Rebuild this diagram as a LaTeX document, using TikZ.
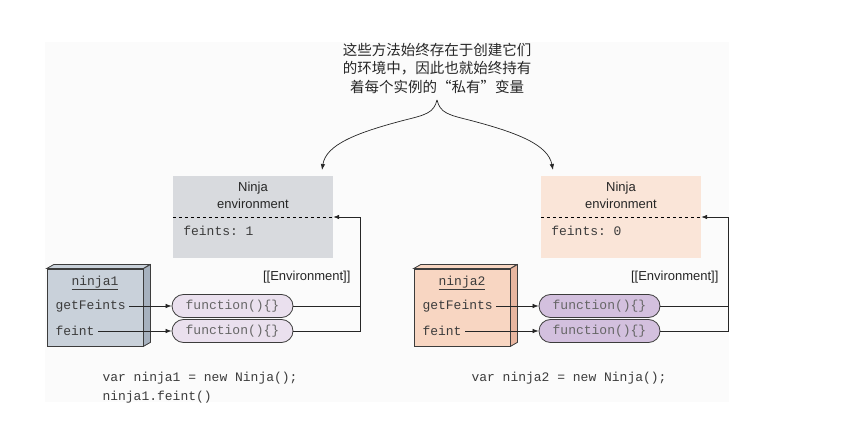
\documentclass[tikz,border=0pt]{standalone}
\usepackage{fontspec}
\setmainfont{Liberation Sans}
\setmonofont{Liberation Mono}
\newfontfamily\cjk{Noto Sans CJK SC}
\usetikzlibrary{arrows.meta, positioning, calc}
\definecolor{panelgray}{RGB}{251,251,251}
\definecolor{envgray}{RGB}{216,218,222}
\definecolor{envpeach}{RGB}{250,229,216}
\definecolor{ninjablue}{RGB}{201,209,218}
\definecolor{ninjabside}{RGB}{166,177,190}
\definecolor{ninjapeach}{RGB}{248,214,194}
\definecolor{ninjapside}{RGB}{232,182,160}
\definecolor{funclight}{RGB}{234,224,238}
\definecolor{funcdark}{RGB}{211,192,222}
\definecolor{inkgray}{RGB}{60,60,60}

\begin{document}
\begin{tikzpicture}[
        x=1pt, y=-1pt,
        envbox/.style={rectangle, minimum width=160pt, minimum height=82pt, inner sep=0pt},
        envtitle/.style={align=center, text=black!85, font=\fontsize{13}{17}\selectfont},
        code/.style={text=inkgray, font=\ttfamily\fontsize{13}{15}\selectfont},
        ninjabox/.style={rectangle, draw=inkgray, line width=0.8pt, minimum width=96pt, minimum height=77pt, inner sep=0pt},
        func/.style={rectangle, draw=inkgray, line width=0.8pt, rounded corners=11.5pt, minimum width=121pt, minimum height=23pt, inner sep=0pt, text=black!60, font=\ttfamily\fontsize{13}{15}\selectfont},
        link/.style={-{Latex[length=6pt,width=4.5pt]}, line width=0.7pt, draw=black!85},
        wire/.style={line width=0.7pt, draw=black!85},
        envlabel/.style={anchor=east, text=black!85, font=\fontsize{13}{15}\selectfont}
    ]
        \useasboundingbox (0,0) rectangle (865,435);
        \fill[panelgray] (45,42) rectangle (729,402);

        % note on top
        \node[align=center, text=black!85, font=\cjk\fontsize{14.5}{18.5}\selectfont] (note) at (437,68)
            {这些方法始终存在于创建它们\\的环境中，因此也就始终持有\\着每个实例的“私有”变量};
        \coordinate (tip) at (437,100);

        % environments
        \node[envbox, fill=envgray] (env1) at (253,217) {};
        \node[envbox, fill=envpeach] (env2) at (621,217) {};
        \node[envtitle] (env1title) at ($(env1.north)+(0,20)$) {Ninja\\environment};
        \node[envtitle] (env2title) at ($(env2.north)+(0,20)$) {Ninja\\environment};
        \draw[dashed, line width=0.7pt] (env1.west) -- (env1.east);
        \draw[dashed, line width=0.7pt] (env2.west) -- (env2.east);
        \node[code, anchor=west] (env1var) at ($(env1.west)+(7,14)$) {feints: 1};
        \node[code, anchor=west] (env2var) at ($(env2.west)+(7,14)$) {feints: 0};

        \draw[link] (tip) .. controls (434,113) and (425,115) .. (405,120)
            .. controls (355,133) and (326,145) .. (322,170);
        \draw[link] (tip) .. controls (440,113) and (449,115) .. (469,120)
            .. controls (519,133) and (548,145) .. (553,170);

        % ninja objects
        \node[ninjabox, fill=ninjablue] (ninja1) at (95,307.5) {};
        \fill[ninjablue, draw=inkgray, line width=0.8pt] (ninja1.north west) -- ++(7,-4) -- ++(96,0) -- (ninja1.north east) -- cycle;
        \fill[ninjabside, draw=inkgray, line width=0.8pt] (ninja1.north east) -- ++(7,-4) -- ($(ninja1.south east)+(7,-4)$) -- (ninja1.south east) -- cycle;
        \node[ninjabox, fill=ninjapeach] (ninja2) at (462,307.5) {};
        \fill[ninjapeach, draw=inkgray, line width=0.8pt] (ninja2.north west) -- ++(7,-4) -- ++(96,0) -- (ninja2.north east) -- cycle;
        \fill[ninjapside, draw=inkgray, line width=0.8pt] (ninja2.north east) -- ++(7,-4) -- ($(ninja2.south east)+(7,-4)$) -- (ninja2.south east) -- cycle;

        \node[code] (n1name) at (95,283) {\underline{ninja1}};
        \node[code, anchor=west] (n1get) at (52,306) {getFeints};
        \node[code, anchor=west] (n1feint) at (52,331) {feint};
        \node[code] (n2name) at (462,283) {\underline{ninja2}};
        \node[code, anchor=west] (n2get) at (419,306) {getFeints};
        \node[code, anchor=west] (n2feint) at (419,331) {feint};

        % functions
        \node[func, fill=funclight] (f1get) at (232.5,306) {function()\{\}};
        \node[func, fill=funclight] (f1feint) at (232.5,331) {function()\{\}};
        \node[func, fill=funcdark] (f2get) at (599.5,306) {function()\{\}};
        \node[func, fill=funcdark] (f2feint) at (599.5,331) {function()\{\}};

        \draw[link] (n1get) -- (f1get);
        \draw[link] (n1feint) -- (f1feint);
        \draw[link] (n2get) -- (f2get);
        \draw[link] (n2feint) -- (f2feint);

        % [[Environment]] links
        \coordinate (bus1) at ($(env1.east)+(27,0)$);
        \coordinate (bus2) at ($(env2.east)+(27,0)$);
        \draw[wire] (f1get.east) -- (f1get.east -| bus1);
        \draw[link] (f1feint.east) -| (bus1) -- (env1.east);
        \draw[wire] (f2get.east) -- (f2get.east -| bus2);
        \draw[link] (f2feint.east) -| (bus2) -- (env2.east);
        \node[envlabel] (lbl1) at (354,277) {[[Environment]]};
        \node[envlabel] (lbl2) at (722,277) {[[Environment]]};

        % code under the objects
        \node[code, anchor=west] (code1) at (99,378) {var ninja1 = new Ninja();};
        \node[code, anchor=west] (code1b) at (99,397) {ninja1.feint()};
        \node[code, anchor=west] (code2) at (468,378) {var ninja2 = new Ninja();};
    \end{tikzpicture}
\end{document}
